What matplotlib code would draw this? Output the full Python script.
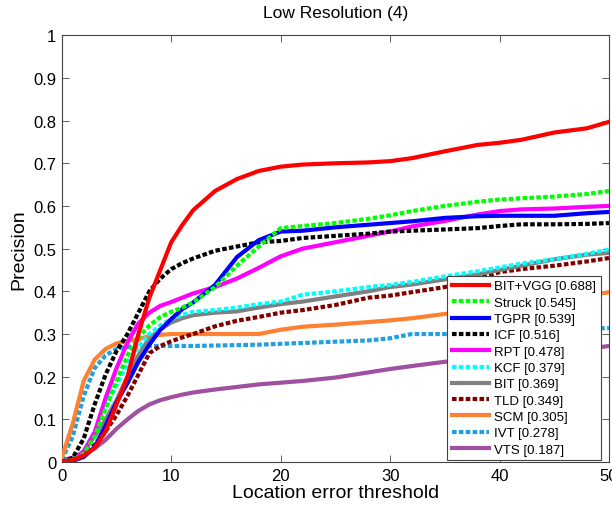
import numpy as np
import matplotlib
matplotlib.use('Agg')
import matplotlib.pyplot as plt

plt.rcParams['font.family'] = ['Liberation Sans', 'DejaVu Sans']

# location error thresholds where values were read
thr = [0, 1, 2, 3, 4, 5, 6, 7, 8, 9, 10, 11, 12, 14, 16, 18, 20, 22, 25, 28,
       30, 32, 35, 38, 40, 42, 45, 48, 50]

names = ['BIT+VGG', 'Struck', 'TGPR', 'ICF', 'RPT', 'KCF', 'BIT', 'TLD', 'SCM', 'IVT', 'VTS']
scores = [0.688, 0.545, 0.539, 0.516, 0.478, 0.379, 0.369, 0.349, 0.305, 0.278, 0.187]

bit_vgg = [0, 0.005, 0.015, 0.033, 0.072, 0.135, 0.2, 0.3, 0.385, 0.45, 0.515, 0.555, 0.59,
           0.635, 0.663, 0.682, 0.692, 0.697, 0.70, 0.702, 0.705, 0.712, 0.728, 0.743,
           0.748, 0.755, 0.772, 0.782, 0.797]
struck = [0, 0.005, 0.02, 0.06, 0.125, 0.19, 0.25, 0.292, 0.32, 0.34, 0.352, 0.362, 0.374,
          0.41, 0.46, 0.505, 0.548, 0.553, 0.56, 0.57, 0.578, 0.588, 0.6, 0.61, 0.615,
          0.618, 0.622, 0.628, 0.635]
tgpr = [0, 0.003, 0.012, 0.035, 0.085, 0.14, 0.185, 0.235, 0.275, 0.31, 0.335, 0.358, 0.374,
        0.415, 0.48, 0.52, 0.54, 0.542, 0.55, 0.556, 0.56, 0.564, 0.572, 0.576, 0.577,
        0.577, 0.577, 0.583, 0.586]
icf = [0, 0.01, 0.055, 0.135, 0.205, 0.26, 0.3, 0.35, 0.4, 0.43, 0.452, 0.466, 0.477,
       0.495, 0.505, 0.515, 0.518, 0.525, 0.53, 0.535, 0.54, 0.542, 0.545, 0.548, 0.553,
       0.557, 0.557, 0.558, 0.56]
rpt = [0, 0.005, 0.025, 0.07, 0.15, 0.22, 0.28, 0.325, 0.35, 0.366, 0.375, 0.385, 0.395,
       0.41, 0.43, 0.455, 0.482, 0.5, 0.515, 0.53, 0.54, 0.552, 0.565, 0.58, 0.588,
       0.592, 0.594, 0.598, 0.6]
kcf = [0, 0.005, 0.025, 0.07, 0.13, 0.18, 0.23, 0.27, 0.3, 0.32, 0.335, 0.345, 0.352,
       0.356, 0.362, 0.37, 0.376, 0.392, 0.4, 0.41, 0.415, 0.422, 0.435, 0.447, 0.456,
       0.465, 0.475, 0.488, 0.498]
bit = [0, 0.008, 0.025, 0.06, 0.1, 0.145, 0.2, 0.25, 0.29, 0.311, 0.327, 0.337, 0.344,
       0.35, 0.353, 0.362, 0.37, 0.376, 0.388, 0.4, 0.41, 0.416, 0.428, 0.44, 0.45,
       0.46, 0.475, 0.486, 0.49]
tld = [0, 0.008, 0.022, 0.04, 0.072, 0.11, 0.155, 0.205, 0.255, 0.272, 0.283, 0.292, 0.3,
       0.318, 0.331, 0.34, 0.35, 0.356, 0.368, 0.385, 0.39, 0.398, 0.41, 0.43, 0.445,
       0.452, 0.46, 0.47, 0.478]
scm = [0.01, 0.09, 0.19, 0.24, 0.265, 0.278, 0.284, 0.288, 0.295, 0.298, 0.3, 0.3, 0.3,
       0.3, 0.3, 0.3, 0.31, 0.317, 0.322, 0.328, 0.332, 0.337, 0.347, 0.355, 0.36,
       0.368, 0.38, 0.39, 0.398]
ivt = [0.005, 0.06, 0.155, 0.22, 0.25, 0.265, 0.27, 0.272, 0.272, 0.272, 0.272, 0.272, 0.272,
       0.273, 0.274, 0.275, 0.277, 0.279, 0.282, 0.285, 0.29, 0.3, 0.3, 0.302, 0.305,
       0.307, 0.31, 0.312, 0.314]
vts = [0.005, 0.01, 0.018, 0.032, 0.052, 0.078, 0.1, 0.12, 0.135, 0.145, 0.152, 0.158, 0.163,
       0.17, 0.176, 0.182, 0.186, 0.19, 0.198, 0.21, 0.218, 0.225, 0.235, 0.24, 0.245,
       0.25, 0.258, 0.265, 0.272]

curves = [bit_vgg, struck, tgpr, icf, rpt, kcf, bit, tld, scm, ivt, vts]
colors = ['#ff0000', '#00ff00', '#0000ff', '#000000', '#ff00ff', '#00ffff',
          '#808080', '#800000', '#ff8030', '#20a0e0', '#a050a0']
dotted = [False, True, False, True, False, True, False, True, False, True, False]

fig = plt.figure(figsize=(6.12, 5.1), dpi=100)
ax = fig.add_axes([0.101, 0.092, 0.894, 0.837])

lines = []
for i in range(len(names)):
    ls = (0, (1.1, 0.55)) if dotted[i] else '-'
    ln, = ax.plot(thr, curves[i], color=colors[i], lw=3, ls=ls,
                  label='%s [%.3f]' % (names[i], scores[i]), zorder=20 - i)
    lines.append(ln)

ax.set_xlim(0, 50)
ax.set_ylim(0, 1)
ax.set_xticks(np.arange(0, 51, 10))
ax.set_yticks(np.arange(0, 1.01, 0.1))
ax.set_yticklabels(['0', '0.1', '0.2', '0.3', '0.4', '0.5', '0.6', '0.7', '0.8', '0.9', '1'])
ax.tick_params(direction='in', top=True, right=True, length=5, width=0.6,
               labelsize=12, color='#444444', pad=4)
for s in ax.spines.values():
    s.set_color('#444444')
    s.set_linewidth(0.8)

ax.set_title('Low Resolution (4)', fontsize=12.5, pad=13)
ax.set_xlabel('Location error threshold', fontsize=14, labelpad=1)
ax.set_ylabel('Precision', fontsize=14, labelpad=4)

leg = ax.legend(handles=lines, loc='lower right', bbox_to_anchor=(0.985, 0.004),
                fontsize=9.5, handlelength=2.8, labelspacing=0.31, handletextpad=0.4,
                borderpad=0.35, borderaxespad=0, fancybox=False, framealpha=1)
leg.get_frame().set_edgecolor('#444444')
leg.get_frame().set_linewidth(0.8)
leg.set_zorder(30)

fig.savefig('out.png', dpi=100)
